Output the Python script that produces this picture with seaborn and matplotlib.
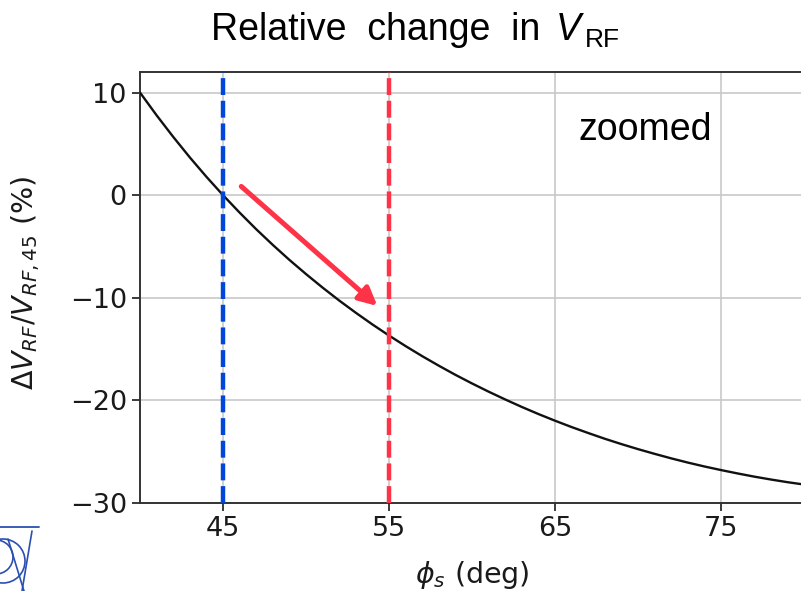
import matplotlib
matplotlib.use("Agg")
import matplotlib.pyplot as plt
import matplotlib.patches as mpatches
import seaborn as sns
import pandas as pd

# ---- data ----
phi_s = [40, 41, 42, 43, 44, 45, 46, 47, 48, 49, 50, 51, 52, 53, 54, 55, 56, 57, 58, 59, 60,
         61, 62, 63, 64, 65, 66, 67, 68, 69, 70, 71, 72, 73, 74, 75, 76, 77, 78, 79, 80]
rel_change = [10.0, 7.78, 5.68, 3.68, 1.79, 0.0, -1.70, -3.32, -4.85, -6.31, -7.69,
              -9.01, -10.27, -11.46, -12.60, -13.68, -14.71, -15.69, -16.62, -17.51, -18.35,
              -19.15, -19.91, -20.64, -21.33, -21.98, -22.60, -23.18, -23.74, -24.26, -24.75,
              -25.21, -25.65, -26.06, -26.44, -26.79, -27.12, -27.43, -27.71, -27.97, -28.20]
ref_phase = 45
new_phase = 55
x_ticks = [45, 55, 65, 75]
y_ticks = [10, 0, -10, -20, -30]
arrow_start = (46.1, 0.85)
arrow_end = (54.3, -10.8)

df = pd.DataFrame({"phi": phi_s, "rel": rel_change})

sns.set_style("ticks")
plt.rcParams["font.family"] = ["DejaVu Sans"]

fig = plt.figure(figsize=(8.01, 5.91), dpi=100)
ax = fig.add_axes([140 / 801, 88 / 591, 664 / 801, 431 / 591])

ax.grid(True, color="#c8c8c8", lw=1.2, zorder=0)
sns.lineplot(data=df, x="phi", y="rel", ax=ax, color="#111111", lw=1.7, zorder=3)

ax.axvline(ref_phase, color="#0047D9", ls=(0, (3.8, 1.3)), lw=3.2, zorder=4)
ax.axvline(new_phase, color="#FF3347", ls=(0, (3.8, 1.3)), lw=3.2, zorder=4)

ax.annotate("", xy=arrow_end, xytext=arrow_start,
            arrowprops=dict(arrowstyle="-|>", color="#FF3347", lw=3.6,
                            mutation_scale=27, shrinkA=0, shrinkB=0),
            zorder=5)

ax.set_xlim(40, 80)
ax.set_ylim(-30, 12)
ax.set_xticks(x_ticks)
ax.set_yticks(y_ticks)
ax.tick_params(labelsize=19.5, colors="#1a1a1a", length=6, width=1.2)
for s in ax.spines.values():
    s.set_color("#333333")
    s.set_linewidth(1.4)

ax.set_xlabel(r"$\phi_s$ (deg)", fontsize=20.5, color="#1a1a1a")
ax.set_ylabel(r"$\Delta V_{RF}/V_{RF,45}$ (%)", fontsize=20.5, color="#1a1a1a")
ax.yaxis.set_label_coords(-0.148, 0.51)
ax.xaxis.set_label_coords(0.5, -0.13)

# annotations in Arial-like font
fig.text(578 / 801, 1 - 140 / 591, "zoomed", fontsize=27, family="Liberation Sans",
         color="black", ha="left", va="baseline")
fig.text(211 / 801, 1 - 40 / 591, "Relative  change  in", fontsize=27,
         family="Liberation Sans", color="black", ha="left", va="baseline")
fig.text(556 / 801, 1 - 40 / 591, "V", fontsize=27, family="Liberation Sans",
         style="italic", color="black", ha="left", va="baseline")
fig.text(585 / 801, 1 - 47 / 591, "RF", fontsize=19, family="Liberation Sans",
         color="black", ha="left", va="baseline")

# partial logo in the lower-left corner (decorative)
lax = fig.add_axes([0, 0, 60 / 801, 70 / 591])
lax.set_xlim(0, 60)
lax.set_ylim(0, 70)
lax.axis("off")
logo_c = "#2a4fb0"
lax.plot([0, 39], [64, 64], color=logo_c, lw=1.3)
lax.add_patch(mpatches.Circle((3, 30), 22, fill=False, ec=logo_c, lw=1.2))
lax.add_patch(mpatches.Circle((-4, 34), 17, fill=False, ec=logo_c, lw=1.2))
lax.plot([32, 22], [60, 0], color=logo_c, lw=1.2)
lax.plot([8, 24], [52, 0], color=logo_c, lw=1.2)

fig.savefig("out.png", dpi=100)
